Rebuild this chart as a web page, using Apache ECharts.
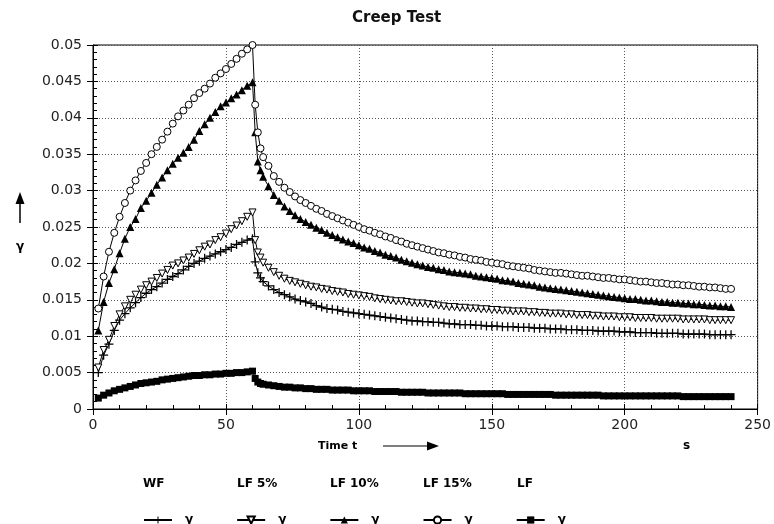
<!DOCTYPE html>
<html>
<head>
<meta charset="utf-8">
<script src="https://cdn.jsdelivr.net/npm/echarts@6/dist/echarts.min.js"></script>
<style>
  html, body { margin: 0; padding: 0; background: #fff; }
  #chart { width: 774px; height: 524px; }
</style>
</head>
<body>
<div id="chart"></div>
<script>
// 时间点 (s)：加载段每2s，卸载段前几秒每1s，之后每2s
const times = [
  2, 4, 6, 8, 10, 12, 14, 16, 18, 20,
  22, 24, 26, 28, 30, 32, 34, 36, 38, 40,
  42, 44, 46, 48, 50, 52, 54, 56, 58, 60,
  61, 62, 63,
  64, 66, 68, 70, 72, 74, 76, 78, 80, 82,
  84, 86, 88, 90, 92, 94, 96, 98, 100, 102,
  104, 106, 108, 110, 112, 114, 116, 118, 120, 122,
  124, 126, 128, 130, 132, 134, 136, 138, 140, 142,
  144, 146, 148, 150, 152, 154, 156, 158, 160, 162,
  164, 166, 168, 170, 172, 174, 176, 178, 180, 182,
  184, 186, 188, 190, 192, 194, 196, 198, 200, 202,
  204, 206, 208, 210, 212, 214, 216, 218, 220, 222,
  224, 226, 228, 230, 232, 234, 236, 238, 240
];

// WF
const wfVals = [
  0.0050, 0.0074, 0.0089, 0.0108, 0.0122, 0.0131, 0.0139, 0.0146, 0.0153, 0.0159,
  0.0164, 0.0168, 0.0173, 0.0178, 0.0182, 0.0186, 0.0191, 0.0196, 0.0200, 0.0203,
  0.0207, 0.0210, 0.0213, 0.0216, 0.0219, 0.0222, 0.0226, 0.0229, 0.0232, 0.0234,
  0.0202, 0.0187, 0.0180,
  0.0175, 0.0169, 0.0164, 0.0160, 0.0157, 0.0154, 0.0151, 0.0149, 0.0147, 0.0145,
  0.0142, 0.0140, 0.0138, 0.0137, 0.0136, 0.0134, 0.0133, 0.0132, 0.0131, 0.0130,
  0.0129, 0.0128, 0.0127, 0.0126, 0.0125, 0.0124, 0.0123, 0.0122, 0.0121, 0.0121,
  0.0120, 0.0120, 0.0119, 0.0119, 0.0118, 0.0117, 0.0117, 0.0116, 0.0116, 0.0116,
  0.0115, 0.0115, 0.0114, 0.0114, 0.0114, 0.0113, 0.0113, 0.0113, 0.0112, 0.0112,
  0.0112, 0.0111, 0.0111, 0.0111, 0.0110, 0.0110, 0.0110, 0.0109, 0.0109, 0.0109,
  0.0108, 0.0108, 0.0108, 0.0107, 0.0107, 0.0107, 0.0107, 0.0106, 0.0106, 0.0106,
  0.0105, 0.0105, 0.0105, 0.0105, 0.0104, 0.0104, 0.0104, 0.0104, 0.0104, 0.0103,
  0.0103, 0.0103, 0.0103, 0.0103, 0.0102, 0.0102, 0.0102, 0.0102, 0.0102
];

// LF 5%
const lf5Vals = [
  0.0057, 0.0081, 0.0095, 0.0114, 0.0130, 0.0141, 0.0150, 0.0157, 0.0164, 0.0170,
  0.0175, 0.0180, 0.0186, 0.0191, 0.0197, 0.0200, 0.0204, 0.0208, 0.0213, 0.0218,
  0.0223, 0.0226, 0.0232, 0.0236, 0.0241, 0.0247, 0.0252, 0.0258, 0.0264, 0.0270,
  0.0232, 0.0215, 0.0208,
  0.0201, 0.0194, 0.0188, 0.0183, 0.0179, 0.0176, 0.0174, 0.0172, 0.0170, 0.0168,
  0.0167, 0.0165, 0.0164, 0.0162, 0.0161, 0.0160, 0.0158, 0.0157, 0.0156, 0.0155,
  0.0154, 0.0152, 0.0151, 0.0150, 0.0149, 0.0148, 0.0148, 0.0147, 0.0146, 0.0145,
  0.0145, 0.0144, 0.0143, 0.0142, 0.0141, 0.0140, 0.0140, 0.0139, 0.0139, 0.0138,
  0.0138, 0.0137, 0.0137, 0.0136, 0.0136, 0.0135, 0.0135, 0.0134, 0.0134, 0.0134,
  0.0133, 0.0133, 0.0132, 0.0132, 0.0131, 0.0131, 0.0131, 0.0130, 0.0130, 0.0129,
  0.0129, 0.0129, 0.0128, 0.0128, 0.0127, 0.0127, 0.0127, 0.0126, 0.0126, 0.0126,
  0.0125, 0.0125, 0.0125, 0.0125, 0.0124, 0.0124, 0.0124, 0.0124, 0.0124, 0.0123,
  0.0123, 0.0123, 0.0123, 0.0123, 0.0122, 0.0122, 0.0122, 0.0122, 0.0122
];

// LF 10%
const lf10Vals = [
  0.0108, 0.0147, 0.0173, 0.0192, 0.0214, 0.0234, 0.0250, 0.0261, 0.0276, 0.0286,
  0.0297, 0.0308, 0.0318, 0.0328, 0.0337, 0.0345, 0.0352, 0.0360, 0.0370, 0.0382,
  0.0391, 0.0400, 0.0408, 0.0416, 0.0421, 0.0427, 0.0432, 0.0438, 0.0444, 0.0449,
  0.0380, 0.0340, 0.0328,
  0.0319, 0.0306, 0.0294, 0.0286, 0.0278, 0.0272, 0.0266, 0.0261, 0.0257, 0.0253,
  0.0249, 0.0246, 0.0242, 0.0239, 0.0236, 0.0233, 0.0230, 0.0228, 0.0225, 0.0222,
  0.0220, 0.0217, 0.0215, 0.0212, 0.0210, 0.0208, 0.0205, 0.0203, 0.0201, 0.0199,
  0.0197, 0.0195, 0.0194, 0.0192, 0.0191, 0.0189, 0.0188, 0.0187, 0.0186, 0.0185,
  0.0183, 0.0182, 0.0181, 0.0180, 0.0179, 0.0177, 0.0176, 0.0175, 0.0173, 0.0172,
  0.0171, 0.0170, 0.0168, 0.0167, 0.0166, 0.0165, 0.0164, 0.0163, 0.0162, 0.0161,
  0.0160, 0.0159, 0.0158, 0.0157, 0.0156, 0.0155, 0.0154, 0.0153, 0.0152, 0.0151,
  0.0151, 0.0150, 0.0149, 0.0149, 0.0148, 0.0147, 0.0147, 0.0146, 0.0146, 0.0145,
  0.0145, 0.0144, 0.0144, 0.0143, 0.0142, 0.0142, 0.0141, 0.0141, 0.0140
];

// LF 15%
const lf15Vals = [
  0.0138, 0.0182, 0.0216, 0.0242, 0.0264, 0.0283, 0.0300, 0.0314, 0.0327, 0.0338,
  0.0350, 0.0360, 0.0370, 0.0381, 0.0392, 0.0402, 0.0410, 0.0418, 0.0427, 0.0434,
  0.0440, 0.0447, 0.0455, 0.0461, 0.0467, 0.0474, 0.0481, 0.0488, 0.0494, 0.0500,
  0.0418, 0.0380, 0.0358,
  0.0346, 0.0334, 0.0320, 0.0312, 0.0304, 0.0298, 0.0292, 0.0287, 0.0283, 0.0279,
  0.0275, 0.0272, 0.0268, 0.0265, 0.0262, 0.0259, 0.0256, 0.0253, 0.0250, 0.0247,
  0.0245, 0.0242, 0.0240, 0.0237, 0.0235, 0.0232, 0.0230, 0.0227, 0.0225, 0.0223,
  0.0221, 0.0219, 0.0217, 0.0215, 0.0214, 0.0212, 0.0211, 0.0209, 0.0208, 0.0206,
  0.0205, 0.0204, 0.0202, 0.0201, 0.0200, 0.0199, 0.0197, 0.0196, 0.0195, 0.0194,
  0.0193, 0.0191, 0.0190, 0.0189, 0.0188, 0.0187, 0.0187, 0.0186, 0.0185, 0.0184,
  0.0183, 0.0183, 0.0182, 0.0181, 0.0180, 0.0180, 0.0179, 0.0178, 0.0178, 0.0177,
  0.0176, 0.0175, 0.0175, 0.0174, 0.0173, 0.0173, 0.0172, 0.0171, 0.0171, 0.0170,
  0.0170, 0.0169, 0.0168, 0.0168, 0.0167, 0.0167, 0.0166, 0.0165, 0.0165
];

// LF
const lfVals = [
  0.0015, 0.0019, 0.0022, 0.0025, 0.0027, 0.0029, 0.0031, 0.0033, 0.0035, 0.0036,
  0.0037, 0.0038, 0.0040, 0.0041, 0.0042, 0.0043, 0.0044, 0.0045, 0.0046, 0.0046,
  0.0047, 0.0047, 0.0048, 0.0048, 0.0049, 0.0049, 0.0050, 0.0050, 0.0051, 0.0052,
  0.0042, 0.0037, 0.0035,
  0.0034, 0.0033, 0.0032, 0.0031, 0.0030, 0.0030, 0.0029, 0.0029, 0.0028, 0.0028,
  0.0027, 0.0027, 0.0027, 0.0026, 0.0026, 0.0026, 0.0026, 0.0025, 0.0025, 0.0025,
  0.0025, 0.0024, 0.0024, 0.0024, 0.0024, 0.0024, 0.0023, 0.0023, 0.0023, 0.0023,
  0.0023, 0.0022, 0.0022, 0.0022, 0.0022, 0.0022, 0.0022, 0.0022, 0.0021, 0.0021,
  0.0021, 0.0021, 0.0021, 0.0021, 0.0021, 0.0021, 0.0020, 0.0020, 0.0020, 0.0020,
  0.0020, 0.0020, 0.0020, 0.0020, 0.0020, 0.0019, 0.0019, 0.0019, 0.0019, 0.0019,
  0.0019, 0.0019, 0.0019, 0.0019, 0.0018, 0.0018, 0.0018, 0.0018, 0.0018, 0.0018,
  0.0018, 0.0018, 0.0018, 0.0018, 0.0018, 0.0018, 0.0018, 0.0018, 0.0018, 0.0017,
  0.0017, 0.0017, 0.0017, 0.0017, 0.0017, 0.0017, 0.0017, 0.0017, 0.0017
];

const seriesNames = ['WF', 'LF 5%', 'LF 10%', 'LF 15%', 'LF'];
const xTicks = { min: 0, max: 250, interval: 50 };
const yTicks = { min: 0, max: 0.05, interval: 0.005 };

const FONT = 'DejaVu Sans';
const plusPath = 'path://M4.3,0H5.7V10H4.3Z M0,4.3H10V5.7H0Z';

const chart = echarts.init(document.getElementById('chart'));

const toPairs = vals => times.map((t, i) => [t, vals[i]]);

const baseSeries = (name, vals, extra) => Object.assign({
    name: name,
    type: 'line',
    data: toPairs(vals),
    showSymbol: true,
    showAllSymbol: true,
    lineStyle: { color: '#000', width: 1 },
    itemStyle: { color: '#000' },
    emphasis: { disabled: true },
    animation: false
}, extra);

const mainAxisCommon = {
    axisLine: { show: true, lineStyle: { color: '#000', width: 1 } },
    axisTick: { show: true, inside: false, length: 6, lineStyle: { color: '#000' } },
    axisLabel: { fontFamily: FONT, fontSize: 14, color: '#222' },
    splitLine: { show: true, lineStyle: { color: '#555', type: [1, 2], width: 1 } }
};
// 第二条轴只用来画朝内的主刻度与次刻度
const innerAxisCommon = {
    axisLine: { show: false },
    axisLabel: { show: false },
    splitLine: { show: false },
    axisTick: { show: true, inside: true, length: 5, lineStyle: { color: '#000' } },
    minorTick: { show: true, splitNumber: 5, length: 4, lineStyle: { color: '#000' } }
};

const nameX = [143, 237, 330, 423, 517];
const boldText = (x, y, text, size, align) => ({
    type: 'text', x: x, y: y, silent: true,
    style: { text: text, fill: '#000', font: 'bold ' + size + 'px "' + FONT + '"',
        textAlign: align || 'left', textVerticalAlign: 'middle' }
});

const option = {
    backgroundColor: '#fff',
    animation: false,
    title: {
        text: 'Creep Test',
        left: 347,
        top: 6,
        textStyle: { fontFamily: FONT, fontWeight: 'bold', fontSize: 15, color: '#111' }
    },
    grid: {
        left: 93, right: 15, top: 45, bottom: 115,
        show: true, borderColor: '#000', borderWidth: 1
    },
    xAxis: [
        Object.assign({ type: 'value', position: 'bottom' }, xTicks, mainAxisCommon,
            { axisLabel: { fontFamily: FONT, fontSize: 14, color: '#222', margin: 9 } }),
        Object.assign({ type: 'value', position: 'bottom' }, xTicks, innerAxisCommon)
    ],
    yAxis: [
        Object.assign({ type: 'value', position: 'left' }, yTicks, mainAxisCommon,
            { axisLabel: { fontFamily: FONT, fontSize: 14, color: '#222', margin: 11 } }),
        Object.assign({ type: 'value', position: 'left' }, yTicks, innerAxisCommon)
    ],
    legend: {
        left: 143,
        top: 514,
        padding: 0,
        orient: 'horizontal',
        itemWidth: 28,
        itemHeight: 9,
        itemGap: 43,
        data: seriesNames,
        selectedMode: false,
        formatter: () => '{g|γ}',
        textStyle: {
            rich: { g: { fontFamily: FONT, fontWeight: 'bold', fontSize: 12, color: '#000', padding: [0, 0, 0, 8] } }
        }
    },
    graphic: [
        // y轴标题: 箭头 + γ
        { type: 'line', silent: true, shape: { x1: 20, y1: 223, x2: 20, y2: 200 }, style: { stroke: '#000', lineWidth: 1.5 } },
        { type: 'polygon', silent: true, shape: { points: [[20, 192], [15.5, 204], [24.5, 204]] }, style: { fill: '#000' } },
        boldText(20, 247, 'γ', 12, 'center'),
        // x轴标题: Time t + 箭头 + s
        boldText(318, 446, 'Time t', 11),
        { type: 'line', silent: true, shape: { x1: 383, y1: 446, x2: 430, y2: 446 }, style: { stroke: '#000', lineWidth: 1.2 } },
        { type: 'polygon', silent: true, shape: { points: [[439, 446], [427, 441.5], [427, 450.5]] }, style: { fill: '#000' } },
        boldText(683, 446, 's', 12),
        // 图例名称
        ...seriesNames.map((n, i) => boldText(nameX[i], 484, n, 12))
    ],
    series: [
        baseSeries('WF', wfVals, { symbol: plusPath, symbolSize: 9 }),
        baseSeries('LF 5%', lf5Vals, {
            symbol: 'triangle', symbolRotate: 180, symbolSize: 7,
            itemStyle: { color: '#fff', borderColor: '#000', borderWidth: 1 }
        }),
        baseSeries('LF 10%', lf10Vals, { symbol: 'triangle', symbolSize: 8 }),
        baseSeries('LF 15%', lf15Vals, {
            symbol: 'circle', symbolSize: 7,
            itemStyle: { color: '#fff', borderColor: '#000', borderWidth: 1 }
        }),
        baseSeries('LF', lfVals, { symbol: 'rect', symbolSize: 7 })
    ]
};

chart.setOption(option);

window.addEventListener('resize', () => chart.resize());
</script>
</body>
</html>
